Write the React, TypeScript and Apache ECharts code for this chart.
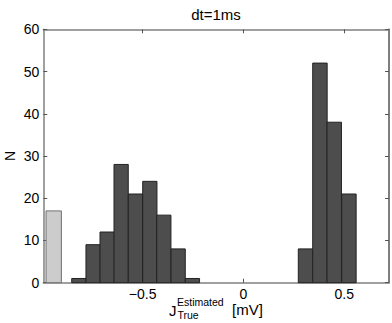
import React, { useEffect, useRef } from "react";
import * as echarts from "echarts";

const binWidthLeft = 0.0707;
const binWidthRight = 0.0716;
const leftEdges = [-0.8517, -0.781, -0.7113, -0.6419, -0.571, -0.4995, -0.4301, -0.3591, -0.2882];
const leftCounts = [1, 9, 12, 28, 21, 24, 16, 8, 1];
const rightEdges = [0.2723, 0.3438, 0.4147, 0.4876];
const rightCounts = [8, 52, 38, 21];
const refEdge = [-0.979, -0.903];
const refCount = [17];
const xTicks = [-0.5, 0, 0.5];
const xTickLabels = ["\u22120.5", "0", "0.5"];

const FONT = "'Liberation Sans', Arial, Helvetica, sans-serif";

export default function App() {
  const ref = useRef<HTMLDivElement>(null);
  useEffect(() => {
    if (!ref.current) return;
    const chart = echarts.init(ref.current, undefined, { renderer: "svg" });
    const darkData: number[][] = [];
    leftEdges.forEach((e, i) => darkData.push([e, e + binWidthLeft, leftCounts[i]]));
    rightEdges.forEach((e, i) => darkData.push([e, e + binWidthRight, rightCounts[i]]));
    const lightData = [[refEdge[0], refEdge[1], refCount[0]]];

    const renderItem = (fill: string, stroke: string) => (params: any, api: any) => {
      const p0 = api.coord([api.value(0), api.value(2)]);
      const p1 = api.coord([api.value(1), 0]);
      return {
        type: "rect",
        shape: { x: p0[0], y: p0[1], width: p1[0] - p0[0], height: p1[1] - p0[1] },
        style: { fill, stroke, lineWidth: 1 },
      };
    };

    const xMin = -0.9926;
    const xMax = 0.7222;
    const axisGrey = "#808080";

    chart.setOption({
      animation: false,
      grid: { left: 43.3, right: 3, top: 29.3, bottom: 40.3, containLabel: false },
      xAxis: [
        {
          type: "value",
          min: xMin,
          max: xMax,
          position: "bottom",
          axisLine: { show: true, onZero: false, lineStyle: { color: axisGrey, width: 1.5 } },
          axisTick: { show: true, inside: true, length: 4, customValues: xTicks, lineStyle: { color: "#555" } },
          axisLabel: {
            customValues: xTicks,
            formatter: (v: number) => {
              const i = xTicks.findIndex((t) => Math.abs(t - v) < 1e-6);
              return i >= 0 ? xTickLabels[i] : "";
            },
            color: "#000",
            fontFamily: FONT,
            fontSize: 14,
            margin: 4,
            hideOverlap: false,
          },
          splitLine: { show: false },
        },
        {
          type: "value",
          min: xMin,
          max: xMax,
          position: "top",
          axisLine: { show: true, onZero: false, lineStyle: { color: axisGrey, width: 1.5 } },
          axisTick: { show: true, inside: true, length: 4, customValues: xTicks, lineStyle: { color: "#555" } },
          axisLabel: { show: false },
          splitLine: { show: false },
        },
      ],
      yAxis: [
        {
          type: "value",
          min: 0,
          max: 60,
          interval: 10,
          position: "left",
          axisLine: { show: true, onZero: false, lineStyle: { color: axisGrey, width: 1.5 } },
          axisTick: { show: true, inside: true, length: 4, lineStyle: { color: "#555" } },
          axisLabel: { color: "#000", fontFamily: FONT, fontSize: 14, margin: 4 },
          splitLine: { show: false },
        },
        {
          type: "value",
          min: 0,
          max: 60,
          interval: 10,
          position: "right",
          axisLine: { show: true, onZero: false, lineStyle: { color: "#555", width: 1.5 } },
          axisTick: { show: true, inside: true, length: 4, lineStyle: { color: "#555" } },
          axisLabel: { show: false },
          splitLine: { show: false },
        },
      ],
      series: [
        {
          type: "custom",
          xAxisIndex: 0,
          yAxisIndex: 0,
          renderItem: renderItem("#cccccc", "#707070"),
          encode: { x: [0, 1], y: 2 },
          data: lightData,
          z: 1,
        },
        {
          type: "custom",
          xAxisIndex: 0,
          yAxisIndex: 0,
          renderItem: renderItem("#4d4d4d", "#222222"),
          encode: { x: [0, 1], y: 2 },
          data: darkData,
          z: 1,
        },
      ],
      graphic: [
        {
          type: "text",
          x: 216,
          y: 14,
          style: { text: "dt=1ms", fill: "#000", font: `15px ${FONT}`, align: "center", verticalAlign: "middle" },
        },
        {
          type: "text",
          x: 10,
          y: 156,
          rotation: Math.PI / 2,
          style: { text: "N", fill: "#000", font: `14px ${FONT}`, align: "center", verticalAlign: "middle" },
        },
        {
          type: "text",
          x: 169,
          y: 310,
          style: { text: "J", fill: "#000", font: `15px ${FONT}`, align: "left", verticalAlign: "middle" },
        },
        {
          type: "text",
          x: 177,
          y: 302,
          style: { text: "Estimated", fill: "#000", font: `10.5px ${FONT}`, align: "left", verticalAlign: "middle" },
        },
        {
          type: "text",
          x: 177.5,
          y: 315,
          style: { text: "True", fill: "#000", font: `10.5px ${FONT}`, align: "left", verticalAlign: "middle" },
        },
        {
          type: "text",
          x: 232,
          y: 309,
          style: { text: "[mV]", fill: "#000", font: `15px ${FONT}`, align: "left", verticalAlign: "middle" },
        },
      ],
    });
    return () => chart.dispose();
  }, []);
  return <div ref={ref} style={{ width: 392, height: 323, position: "absolute", left: 0, top: 0, background: "#fff" }} />;
}
